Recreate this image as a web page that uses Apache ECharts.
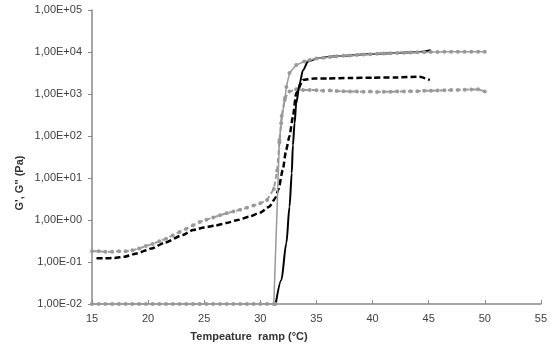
<!DOCTYPE html>
<html>
<head>
<meta charset="utf-8">
<script src="https://cdn.jsdelivr.net/npm/echarts@6/dist/echarts.min.js"></script>
<style>html,body{margin:0;padding:0;background:#fff}#c{width:550px;height:349px}</style>
</head>
<body>
<div id="c"></div>
<script>
// X tick labels / axis range
const xTicks = [15, 20, 25, 30, 35, 40, 45, 50, 55];
const yTicks = [0.01, 0.1, 1, 10, 100, 1000, 10000, 100000];

// Gray G' (solid, markers)
const grayGpT = [15,15.6,16.2,16.8,17.4,18,18.6,19.2,19.8,20.4,21,21.6,22.2,22.8,23.4,24,24.6,25.2,25.8,26.4,27,27.6,28.2,28.8,29.4,30,30.6,31.2,31.35,
  31.7,31.86,32.17,32.32,32.6,33.2,33.9,34.4,
  35,35.6,36.2,36.8,37.4,38,38.6,39.2,39.8,40.4,41,41.6,42.2,42.8,43.4,44,44.6,45.2,45.8,46.4,47,47.6,48.2,48.8,49.4,50];
const grayGpV = [0.01,0.01,0.01,0.01,0.01,0.01,0.01,0.01,0.01,0.01,0.01,0.01,0.01,0.01,0.01,0.01,0.01,0.01,0.01,0.01,0.01,0.01,0.01,0.01,0.01,0.01,0.01,0.01,0.01,
  80,200,720,1470,3160,4900,5900,6450,
  7000,7300,7600,7900,8100,8300,8500,8700,8900,9100,9200,9400,9500,9600,9700,9800,9900,10000,10000,10100,10100,10100,10100,10100,10100,10100];

// Gray G'' (dashed, markers)
const grayGppT = [15,15.6,16.2,16.8,17.4,18,18.6,19.2,19.8,20.4,21,21.6,22.2,22.8,23.4,24,24.6,25.2,25.8,26.4,27,27.6,28.2,28.8,29.4,30,30.6,31.2,
  31.5,31.7,31.9,32.2,32.6,33.2,33.8,34.4,
  35,35.6,36.2,36.8,37.4,38,38.6,39.2,39.8,40.4,41,41.6,42.2,42.8,43.4,44,44.6,45.2,45.8,46.4,47,47.6,48.2,48.8,49.4,50];
const grayGppV = [0.18,0.18,0.175,0.175,0.18,0.18,0.19,0.21,0.24,0.27,0.31,0.36,0.43,0.52,0.62,0.75,0.9,1.02,1.15,1.3,1.45,1.6,1.75,1.95,2.2,2.5,3.0,5.5,
  15,70,300,800,1150,1290,1250,1245,
  1230,1200,1205,1180,1160,1150,1140,1130,1140,1120,1130,1135,1140,1150,1160,1170,1190,1200,1210,1230,1240,1250,1260,1280,1290,1150];

// Black G' (solid)
const blackGpT = [31.37,31.87,32.32,32.6,32.8,32.9,33.05,33.2,33.5,33.8,34.25,35.1,36,37,38,39,40,41,42,43,44,45.2];
const blackGpV = [0.01,0.037,0.28,2.07,12.9,60,200,600,1780,3700,5900,7100,7600,8000,8300,8700,9000,9200,9500,9700,9900,11000];

// Black G'' (dashed)
const blackGppT = [15.4,16,17,17.9,19,20.3,21.5,23.1,24,25,26,27,28,29,30,30.8,31.3,31.6,32.0,32.3,32.6,32.9,33.2,33.8,34.7,36,38,40,42,44.2,45.1];
const blackGppV = [0.122,0.122,0.125,0.134,0.16,0.21,0.29,0.44,0.58,0.66,0.74,0.85,1.0,1.2,1.5,2.07,3.2,5.2,15.6,46.6,100,287,1050,2150,2340,2350,2400,2450,2480,2570,2150];

function pairs(t, v) { return t.map((x, i) => [x, v[i]]); }
function fmtE(v) {
  const e = Math.round(Math.log10(v));
  const s = e < 0 ? '-' : '+';
  const a = Math.abs(e);
  return '1,00E' + s + (a < 10 ? '0' : '') + a;
}

const FONT = 'Liberation Sans';
const chart = echarts.init(document.getElementById('c'), null, { renderer: 'canvas' });
chart.setOption({
  animation: false,
  backgroundColor: '#fff',
  grid: { left: 92, right: 9, top: 10, bottom: 45 },
  xAxis: {
    type: 'value', min: xTicks[0], max: xTicks[xTicks.length - 1], interval: 5,
    axisLine: { lineStyle: { color: '#888', width: 1.5 } },
    axisTick: { inside: true, length: 4, lineStyle: { color: '#888' } },
    axisLabel: { color: '#404040', fontFamily: FONT, fontSize: 11, margin: 9 },
    splitLine: { show: false }
  },
  yAxis: {
    type: 'log', logBase: 10, min: yTicks[0], max: yTicks[yTicks.length - 1],
    axisLine: { show: true, lineStyle: { color: '#888', width: 1.5 } },
    axisTick: { show: true, length: 4, lineStyle: { color: '#888' } },
    axisLabel: { color: '#404040', fontFamily: FONT, fontSize: 11, margin: 10, formatter: fmtE },
    splitLine: { show: false }
  },
  graphic: [
    { type: 'text', x: 20, y: 183, rotation: Math.PI / 2,
      style: { text: "G', G'' (Pa)", font: 'bold 11px "Liberation Sans"', fill: '#333', align: 'center', verticalAlign: 'middle' } },
    { type: 'text', x: 249, y: 337,
      style: { text: 'Tempeature  ramp (°C)', font: 'bold 11px "Liberation Sans"', fill: '#333', align: 'center', verticalAlign: 'middle' } }
  ],
  series: [
    { name: "G'' A", type: 'line', data: pairs(blackGppT, blackGppV), showSymbol: false, symbol: 'none',
      smooth: 0.2, smoothMonotone: 'x',
      lineStyle: { color: '#000', width: 2.5, type: [6, 3] }, z: 3 },
    { name: "G'' B", type: 'line', data: pairs(grayGppT, grayGppV), symbol: 'circle', symbolSize: 4,
      itemStyle: { color: '#9a9a9a' }, lineStyle: { color: '#9a9a9a', width: 2, type: [5, 3] }, z: 4 },
    { name: "G' A", type: 'line', data: pairs(blackGpT, blackGpV), symbol: 'none',
      smooth: 0.3, smoothMonotone: 'x',
      lineStyle: { color: '#000', width: 2 }, z: 5 },
    { name: "G' B", type: 'line', data: pairs(grayGpT, grayGpV), symbol: 'circle', symbolSize: 4,
      itemStyle: { color: '#999' }, lineStyle: { color: '#999', width: 1.5 }, z: 6 }
  ]
});
</script>
</body>
</html>
